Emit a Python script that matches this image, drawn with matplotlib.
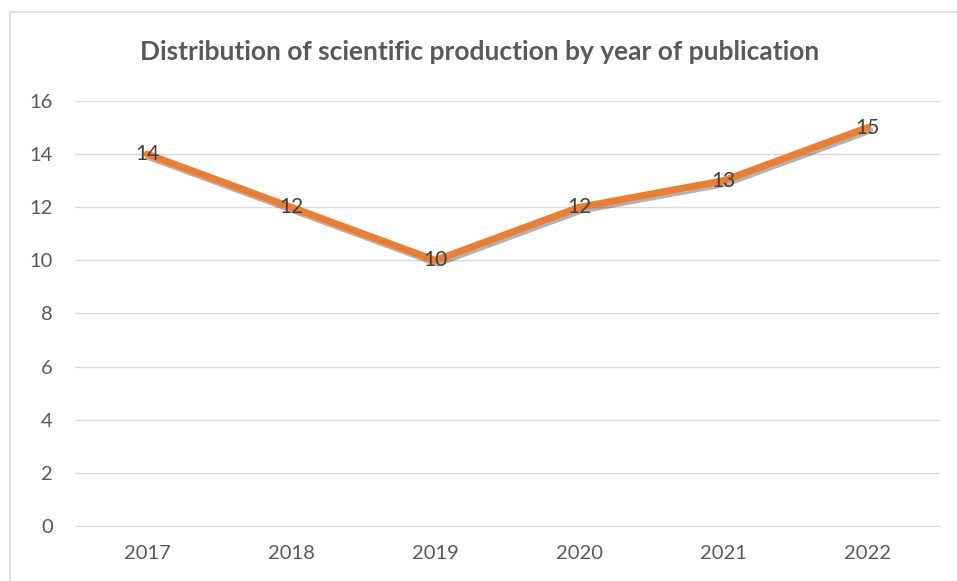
import matplotlib.pyplot as plt
import matplotlib.patheffects as pe
from matplotlib.patches import Rectangle

years = ['2017', '2018', '2019', '2020', '2021', '2022']
counts = [14, 12, 10, 12, 13, 15]

plt.rcParams['font.family'] = ['Lato', 'DejaVu Sans']

fig = plt.figure(figsize=(9.57, 5.81), dpi=100)
ax = fig.add_axes([0.0784, 0.0947, 0.9036, 0.7315])

# chart frame (light grey, cut off at right/bottom like the original)
fig.patches.append(Rectangle((10 / 957, -0.1), 1.2, 1 - 12 / 581 + 0.1,
                             transform=fig.transFigure, fill=False,
                             edgecolor='#d9d9d9', linewidth=1.2))

x = range(len(years))
ax.plot(x, counts, color='#ED7D31', linewidth=5, solid_capstyle='round',
        path_effects=[pe.SimpleLineShadow(offset=(1.5, -2), shadow_color='black', alpha=0.3),
                      pe.Normal()], zorder=3)

for xi, v in zip(x, counts):
    ax.text(xi, v, str(v), ha='center', va='center', fontsize=15, color='#404040', zorder=4)

ax.set_xlim(-0.5, len(years) - 0.5)
ax.set_ylim(0, 16)
ax.set_yticks(range(0, 17, 2))
ax.set_xticks(list(x))
ax.set_xticklabels(years)
ax.yaxis.grid(True, color='#d9d9d9', linewidth=1)
ax.set_axisbelow(True)
for s in ['top', 'right', 'left']:
    ax.spines[s].set_visible(False)
ax.spines['bottom'].set_color('#d9d9d9')
ax.tick_params(axis='both', length=0, labelsize=14.5, colors='#595959', pad=14)
ax.tick_params(axis='y', pad=16)

fig.text(0.501, 1 - 52 / 581, 'Distribution of scientific production by year of publication',
         ha='center', va='center', fontsize=19, fontweight='bold', color='#595959')

fig.savefig('out.png', dpi=100)
